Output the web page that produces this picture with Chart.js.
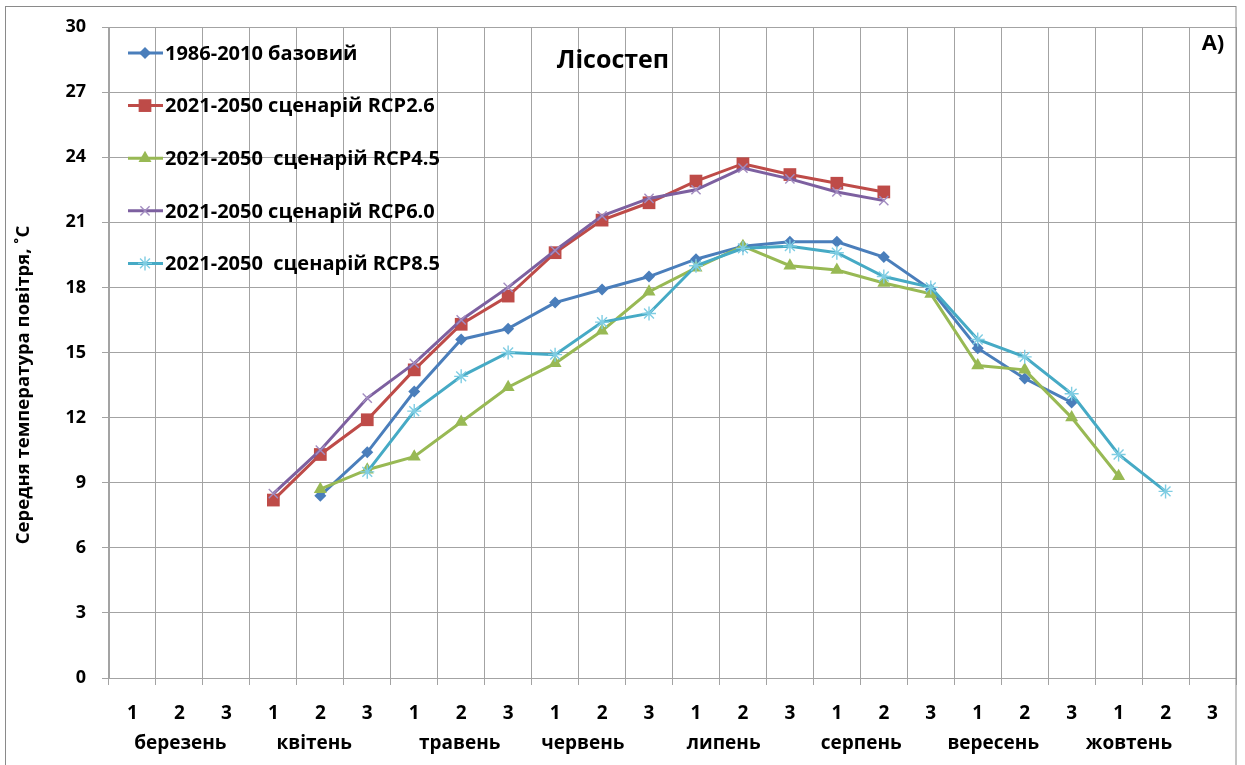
<!DOCTYPE html>
<html>
<head>
<meta charset="utf-8">
<script src="https://cdn.jsdelivr.net/npm/chart.js@4.4.0/dist/chart.umd.min.js"></script>
<style>
  html, body { margin: 0; padding: 0; background: #fff; }
  #wrap { width: 1245px; height: 765px; }
</style>
</head>
<body>
<div id="wrap"><canvas id="c" width="1245" height="765"></canvas></div>
<script>
// Декади (1, 2, 3) для кожного місяця з березня по жовтень
const months = ['березень', 'квітень', 'травень', 'червень', 'липень', 'серпень', 'вересень', 'жовтень'];
const dekads = months.flatMap(() => ['1', '2', '3']);

// Середня температура повітря по декадах, °C
const base1986 = [null, null, null, null, 8.4, 10.4, 13.2, 15.6, 16.1, 17.3, 17.9, 18.5, 19.3, 19.9, 20.1, 20.1, 19.4, 17.9, 15.2, 13.8, 12.7, null, null, null];
const rcp26    = [null, null, null, 8.2, 10.3, 11.9, 14.2, 16.3, 17.6, 19.6, 21.1, 21.9, 22.9, 23.7, 23.2, 22.8, 22.4, null, null, null, null, null, null, null];
const rcp45    = [null, null, null, null, 8.7, 9.6, 10.2, 11.8, 13.4, 14.5, 16.0, 17.8, 18.9, 19.9, 19.0, 18.8, 18.2, 17.7, 14.4, 14.2, 12.0, 9.3, null, null];
const rcp60    = [null, null, null, 8.5, 10.5, 12.9, 14.5, 16.5, 18.0, 19.7, 21.3, 22.1, 22.5, 23.5, 23.0, 22.4, 22.0, null, null, null, null, null, null, null];
const rcp85    = [null, null, null, null, null, 9.5, 12.3, 13.9, 15.0, 14.9, 16.4, 16.8, 19.0, 19.8, 19.9, 19.6, 18.5, 18.0, 15.6, 14.8, 13.1, 10.3, 8.6, null];

const seriesNames = [
  '1986-2010 базовий',
  '2021-2050 сценарій RCP2.6',
  '2021-2050  сценарій RCP4.5',
  '2021-2050 сценарій RCP6.0',
  '2021-2050  сценарій RCP8.5'
];
const yTickStep = 3;
const yMin = 0, yMax = 30;

const FONT = '"Open Sans", "Noto Sans", sans-serif';
const GRID = '#a3a3a3';

// Положення підписів місяців під шкалою (в одиницях категорій)
const monthAnchor = [1.02, 3.87, 6.97, 9.59, 12.59, 15.52, 18.33, 21.22];

const series = [
  { data: base1986, color: '#4A7EBB', style: 'rectRot', radius: 6, fill: true },
  { data: rcp26,    color: '#BE4B48', style: 'rect',    radius: 9, fill: true },
  { data: rcp45,    color: '#98B954', style: 'triangle', radius: 7.5, fill: true },
  { data: rcp60,    color: '#7D60A0', style: 'crossRot', radius: 6.5, fill: false },
  { data: rcp85,    color: '#46AAC5', style: 'star',    radius: 7, fill: false }
];

const datasets = series.map((s, i) => ({
  label: seriesNames[i],
  data: s.data,
  borderColor: s.color,
  backgroundColor: s.color,
  borderWidth: 3,
  pointStyle: s.style,
  pointRadius: s.radius,
  pointBorderWidth: s.fill ? 0 : 1.4,
  pointBorderColor: s.fill ? s.color : (i === 4 ? '#7fcde3' : '#a28cc0'),
  pointBackgroundColor: s.color,
  pointHoverRadius: s.radius,
  tension: 0,
  order: series.length - i
}));

// Рамка, заголовок, легенда, підписи місяців та назва осі Y
const decorations = {
  id: 'decorations',
  afterDraw(chart) {
    const { ctx, chartArea, scales } = chart;
    ctx.save();

    // зовнішня рамка
    ctx.strokeStyle = '#8a8a8a';
    ctx.lineWidth = 1;
    ctx.strokeRect(5.5, 6.5, chartArea.right - 5.5, 820);

    ctx.fillStyle = '#000';
    // заголовок
    ctx.font = `bold 25px ${FONT}`;
    ctx.textAlign = 'center';
    ctx.textBaseline = 'middle';
    ctx.fillText('Лісостеп', 613, 61);

    ctx.font = `bold 22px ${FONT}`;
    ctx.fillText('A)', 1213, 44);

    // легенда
    chart.data.datasets.forEach((ds, i) => {
      const y = chartArea.top + 26 + i * 52.6;
      const x0 = chartArea.left + 19;
      ctx.strokeStyle = ds.borderColor;
      ctx.lineWidth = 3;
      ctx.beginPath();
      ctx.moveTo(x0, y);
      ctx.lineTo(x0 + 35, y);
      ctx.stroke();
      ctx.fillStyle = ds.pointBackgroundColor;
      ctx.strokeStyle = ds.pointBorderColor;
      ctx.lineWidth = ds.pointBorderWidth || 0;
      Chart.helpers.drawPoint(ctx, {
        pointStyle: ds.pointStyle,
        rotation: 0,
        radius: ds.pointRadius,
        borderWidth: ds.pointBorderWidth
      }, x0 + 17, y);
      ctx.fillStyle = '#000';
      ctx.font = `bold 20px ${FONT}`;
      ctx.textAlign = 'left';
      ctx.textBaseline = 'middle';
      ctx.fillText(ds.label, x0 + 37, y + 1);
    });

    // підписи місяців
    const xs = scales.x;
    ctx.font = `bold 20px ${FONT}`;
    ctx.textAlign = 'center';
    ctx.textBaseline = 'middle';
    months.forEach((m, i) => {
      const x = xs.getPixelForValue(monthAnchor[i]);
      ctx.save();
      ctx.translate(x, 743);
      ctx.scale(0.95, 1);
      ctx.fillText(m, 0, 0);
      ctx.restore();
    });

    // назва осі Y
    ctx.save();
    ctx.translate(24, 385);
    ctx.rotate(-Math.PI / 2);
    ctx.font = `bold 18.5px ${FONT}`;
    ctx.fillText('Середня температура повітря, ˚С', 0, 0);
    ctx.restore();

    ctx.restore();
  }
};

new Chart(document.getElementById('c'), {
  type: 'line',
  data: { labels: dekads, datasets },
  options: {
    responsive: false,
    animation: false,
    events: [],
    layout: { padding: { left: 0, right: 7, top: 27, bottom: 0 } },
    plugins: { legend: { display: false }, tooltip: { enabled: false }, title: { display: false } },
    scales: {
      x: {
        type: 'category',
        offset: true,
        grid: { offset: true, color: GRID, lineWidth: 1, tickLength: 7, tickColor: GRID },
        border: { display: true, color: GRID },
        ticks: {
          color: '#000',
          font: { family: FONT, size: 19, weight: 'bold' },
          padding: 17,
          maxRotation: 0,
          autoSkip: false
        },
        afterFit(s) { s.height = 87; }
      },
      y: {
        min: yMin,
        max: yMax,
        grid: { color: GRID, lineWidth: 1, tickLength: 7, tickColor: GRID },
        border: { display: true, color: GRID },
        ticks: {
          stepSize: yTickStep,
          color: '#000',
          font: { family: FONT, size: 18, weight: 'bold' },
          padding: 16
        },
        afterFit(s) { s.width = 109; }
      }
    }
  },
  plugins: [decorations]
});
</script>
</body>
</html>
